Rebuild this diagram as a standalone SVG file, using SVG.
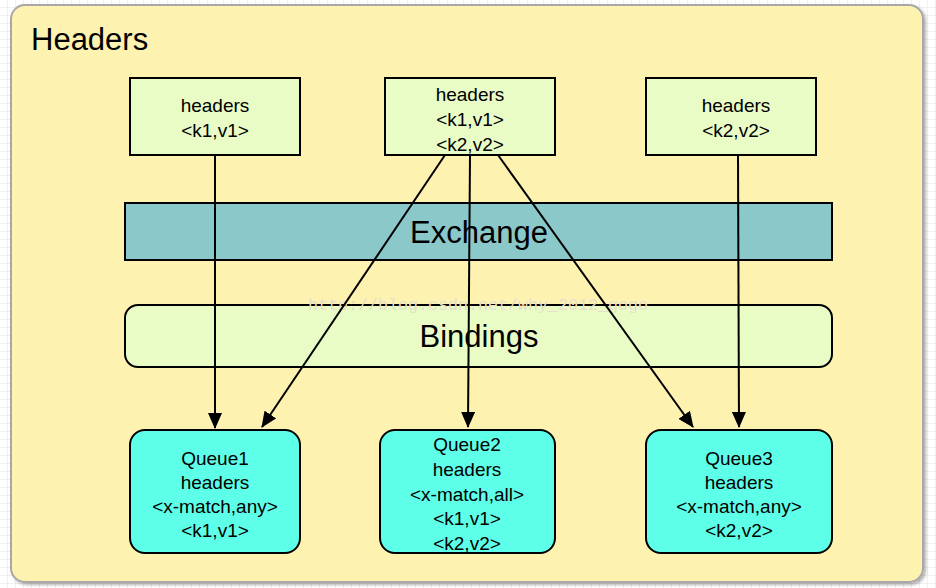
<svg xmlns="http://www.w3.org/2000/svg" width="936" height="588" viewBox="0 0 936 588">
<style>
text{font-family:"Liberation Sans",Arial,sans-serif;fill:#000;text-anchor:middle}
.t{font-size:19px}
.big{font-size:31px}
.box{fill:#E9FCC6;stroke:#000;stroke-width:2}
.q{fill:#5EFFE8;stroke:#000;stroke-width:2}
.c{stroke:#000;stroke-width:2;fill:none;marker-end:url(#ah)}
</style>
<defs>
<pattern id="grid" width="8" height="8" patternUnits="userSpaceOnUse">
<rect width="8" height="8" fill="#fff"/>
<path d="M8 0V8M0 8H8" stroke="#E4E4E4" stroke-width="1"/>
</pattern>
<marker id="ah" viewBox="0 0 16 14" refX="15" refY="7" markerWidth="16" markerHeight="14" markerUnits="userSpaceOnUse" orient="auto">
<path d="M0 0L16 7L0 14Z" fill="#000"/>
</marker>
<filter id="sh" x="-5%" y="-5%" width="110%" height="110%">
<feDropShadow dx="2" dy="2" stdDeviation="1.5" flood-color="#000" flood-opacity="0.3"/>
</filter>
</defs>
<rect width="936" height="588" fill="url(#grid)"/>
<g id="container">
<rect x="11" y="5" width="912" height="577" rx="14" fill="#FEF2B1" stroke="#A8A8A8" stroke-width="2" filter="url(#sh)"/>
<text x="31" y="50" style="font-size:31px;text-anchor:start">Headers</text>
</g>
<g id="exchange">
<rect x="125" y="203" width="707" height="57" fill="#8BC8C9" stroke="#000" stroke-width="2"/>
<text x="479" y="243" class="big">Exchange</text>
</g>
<g id="bindings">
<rect x="125" y="305" width="707" height="62" rx="13" fill="#E9FCC6" stroke="#000" stroke-width="2"/>
<text x="479" y="347" class="big">Bindings</text>
</g>
<text x="478" y="310" style="font-family:'Liberation Mono',monospace;font-size:17px;fill:#E6DFCB" textLength="340" lengthAdjust="spacingAndGlyphs">http://blog.csdn.net/why_2012_gogo</text>
<g id="connectors">
<path class="c" d="M215 155L215 428"/>
<path class="c" d="M445 155L262 427"/>
<path class="c" d="M470 155L468 427"/>
<path class="c" d="M498 155L693 427"/>
<path class="c" d="M738 155L739 427"/>
</g>
<g id="h1">
<rect class="box" x="130" y="78" width="170" height="77"/>
<text class="t" x="215" y="112">headers</text>
<text class="t" x="215" y="137">&lt;k1,v1&gt;</text>
</g>
<g id="h2">
<rect class="box" x="385" y="78" width="170" height="77"/>
<text class="t" x="470" y="101">headers</text>
<text class="t" x="470" y="126">&lt;k1,v1&gt;</text>
<text class="t" x="470" y="151">&lt;k2,v2&gt;</text>
</g>
<g id="h3">
<rect class="box" x="646" y="78" width="170" height="77"/>
<text class="t" x="736" y="112">headers</text>
<text class="t" x="736" y="137">&lt;k2,v2&gt;</text>
</g>
<g id="queue1">
<rect class="q" x="130" y="430" width="170" height="123" rx="15"/>
<text class="t" x="215" y="465">Queue1</text>
<text class="t" x="215" y="489">headers</text>
<text class="t" x="215" y="513">&lt;x-match,any&gt;</text>
<text class="t" x="215" y="537">&lt;k1,v1&gt;</text>
</g>
<g id="queue2">
<rect class="q" x="380" y="430" width="175" height="123" rx="15"/>
<text class="t" x="467" y="451">Queue2</text>
<text class="t" x="467" y="476">headers</text>
<text class="t" x="467" y="501">&lt;x-match,all&gt;</text>
<text class="t" x="467" y="525">&lt;k1,v1&gt;</text>
<text class="t" x="467" y="550">&lt;k2,v2&gt;</text>
</g>
<g id="queue3">
<rect class="q" x="646" y="430" width="186" height="123" rx="15"/>
<text class="t" x="739" y="465">Queue3</text>
<text class="t" x="739" y="489">headers</text>
<text class="t" x="739" y="513">&lt;x-match,any&gt;</text>
<text class="t" x="739" y="537">&lt;k2,v2&gt;</text>
</g>
</svg>
